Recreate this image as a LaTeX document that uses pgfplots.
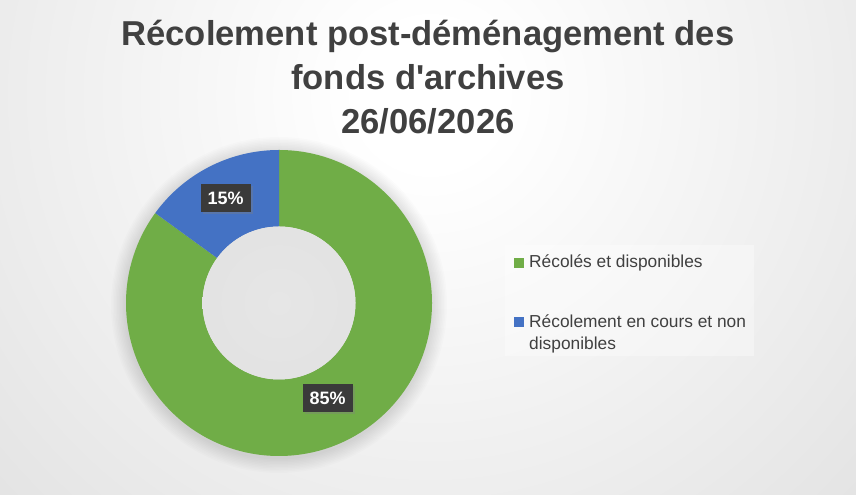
\documentclass[border=0pt]{standalone}
\usepackage{pgfplots}
\pgfplotsset{compat=1.18}
\usepackage{pgfplotstable}
\usepackage{fontspec}
\setmainfont{Liberation Sans}
\usetikzlibrary{shadows}
\definecolor{textgray}{HTML}{404040}
\definecolor{sgreen}{HTML}{70AD47}
\definecolor{sblue}{HTML}{4472C4}
\definecolor{lblbox}{HTML}{3A3A3A}
\definecolor{bgouter}{HTML}{C6C6C6}
\definecolor{holein}{HTML}{E6E6E6}
\definecolor{holemid}{HTML}{E1E1E1}
\definecolor{holeout}{HTML}{D2D2D2}
\pgfdeclareradialshading{bgshade}{\pgfpointorigin}{color(0bp)=(white); color(3bp)=(white); color(48bp)=(bgouter); color(50bp)=(bgouter)}
\pgfdeclareradialshading{holeshade}{\pgfpointorigin}{color(0bp)=(holein); color(38bp)=(holemid); color(50bp)=(holeout)}

\pgfplotstableread{
label value
Recoles 85
Encours 15
}\piedata

\begin{document}
\begin{tikzpicture}[x=1bp,y=1bp]
\useasboundingbox (0,0) rectangle (856,495);
\begin{scope}
\clip (0,0) rectangle (856,495);
\fill[bgouter] (0,0) rectangle (856,495);
\shade[shading=bgshade] (430,400) circle (600);
% soft shadow around the ring
\foreach \r in {1.5,3,...,15}{\fill[black, opacity=0.012] (279,190) circle ({153+\r});}
\end{scope}
% legend background
\fill[white, opacity=0.35] (505,139) rectangle (754,250);
% title
\node[align=center, font=\bfseries\fontsize{34.7}{44.5}\selectfont, text=textgray, anchor=base] at (428,361) {Récolement post-déménagement des\\fonds d\textquotesingle archives\\26/06/2026};

\pgfplotstablegetelem{0}{value}\of\piedata
\pgfmathsetmacro\va{\pgfplotsretval}
\pgfplotstablegetelem{1}{value}\of\piedata
\pgfmathsetmacro\vb{\pgfplotsretval}
\pgfmathsetmacro\aStart{90}
\pgfmathsetmacro\aMid{90-3.6*\va}
\pgfmathsetmacro\aEnd{90-3.6*(\va+\vb)}
\pgfmathsetmacro\mA{90-1.8*\va}
\pgfmathsetmacro\mB{90-3.6*\va-1.8*\vb}

\begin{axis}[
  hide axis, x=153bp, y=153bp,
  xmin=-1, xmax=1, ymin=-1, ymax=1,
  at={(279bp,192bp)}, anchor=origin, clip=false,
  legend style={at={(1.2386,0.6895)}, anchor=north west, draw=none, fill=none,
    font=\fontsize{17.4}{22}\selectfont, text=textgray,
    cells={anchor=base west}, row sep=41bp, inner xsep=9bp, inner ysep=8bp},
  legend image code/.code={\fill[#1] (0bp,0bp) rectangle (10bp,10bp); \path (13bp,0bp);},
]
\addlegendimage{fill=sgreen, draw=none}
\addlegendentry{Récolés et disponibles}
\addlegendimage{fill=sblue, draw=none}
\addlegendentry{\parbox[t]{225bp}{\baselineskip=22bp Récolement en cours et non\\disponibles}}

\fill[sgreen] (axis cs:{cos(\aStart)},{sin(\aStart)}) arc[start angle=\aStart, end angle=\aMid, radius=153bp]
  -- (axis cs:{0.5*cos(\aMid)},{0.5*sin(\aMid)}) arc[start angle=\aMid, end angle=\aStart, radius=76.5bp] -- cycle;
\fill[sblue] (axis cs:{cos(\aMid)},{sin(\aMid)}) arc[start angle=\aMid, end angle=\aEnd, radius=153bp]
  -- (axis cs:{0.5*cos(\aEnd)},{0.5*sin(\aEnd)}) arc[start angle=\aEnd, end angle=\aMid, radius=76.5bp] -- cycle;
\shade[shading=holeshade] (axis cs:0,0) circle (76.5bp);

\node[fill=lblbox, text=white, font=\bfseries\fontsize{18}{20}\selectfont, minimum width=50bp, minimum height=28bp, inner sep=0pt,
  drop shadow={opacity=0.35, shadow xshift=2bp, shadow yshift=-2bp}]
  at (axis cs:{0.70*cos(\mA)},{0.70*sin(\mA)}) {85\%};
\node[fill=lblbox, text=white, font=\bfseries\fontsize{18}{20}\selectfont, minimum width=50bp, minimum height=28bp, inner sep=0pt,
  drop shadow={opacity=0.35, shadow xshift=2bp, shadow yshift=-2bp}]
  at (axis cs:{0.77*cos(\mB)},{0.77*sin(\mB)}) {15\%};
\end{axis}
\end{tikzpicture}
\end{document}
